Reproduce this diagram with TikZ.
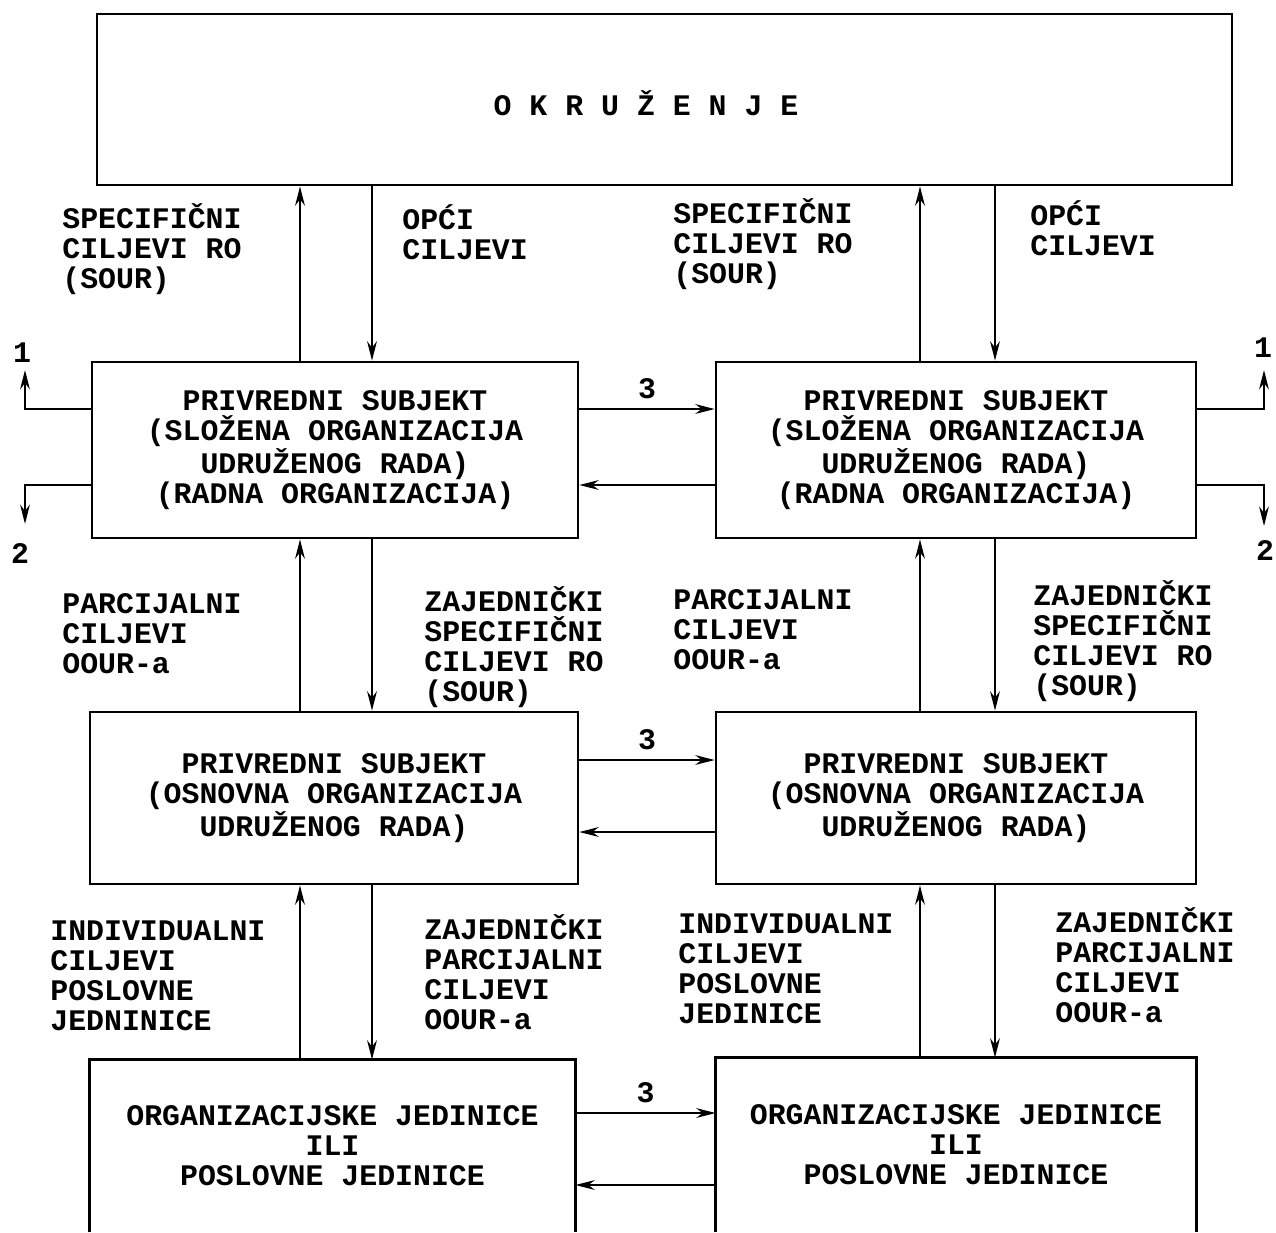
\documentclass[tikz,border=0pt]{standalone}
\usepackage{fontspec}
\setmainfont{Liberation Mono}
\usetikzlibrary{arrows.meta}
\begin{document}
\begin{tikzpicture}[x=0.02cm,y=-0.02cm,
  every node/.style={font=\fontsize{17}{17}\selectfont\bfseries, inner sep=0pt},
  box/.style={draw, line width=1.5pt, align=center},
  obox/.style={align=center},
  lbl/.style={anchor=west, align=left},
  con/.style={line width=1.4pt},
  arr/.style={con, -{Stealth[length=11pt,width=5.5pt]}}]
\useasboundingbox (0,0) rectangle (1276,1232);

% boxes
\node[box, minimum width=22.7cm, minimum height=3.42cm] (env) at (664.5,99.5) {};
\node (envt) at (646,103) {O K R U Ž E N J E};

\node[box, minimum width=9.72cm, minimum height=3.52cm] (b1) at (335,450)
  {PRIVREDNI SUBJEKT\\(SLOŽENA ORGANIZACIJA\\UDRUŽENOG RADA)\\(RADNA ORGANIZACIJA)};
\node[box, minimum width=9.6cm, minimum height=3.52cm] (b2) at (956,450)
  {PRIVREDNI SUBJEKT\\(SLOŽENA ORGANIZACIJA\\UDRUŽENOG RADA)\\(RADNA ORGANIZACIJA)};
\node[box, minimum width=9.76cm, minimum height=3.44cm] (b3) at (334,798)
  {PRIVREDNI SUBJEKT\\(OSNOVNA ORGANIZACIJA\\UDRUŽENOG RADA)};
\node[box, minimum width=9.6cm, minimum height=3.44cm] (b4) at (956,798)
  {PRIVREDNI SUBJEKT\\(OSNOVNA ORGANIZACIJA\\UDRUŽENOG RADA)};
\node[obox, minimum width=9.7cm, minimum height=3.44cm] (b5) at (332.5,1146)
  {ORGANIZACIJSKE JEDINICE\\ILI\\POSLOVNE JEDINICE};
\node[obox, minimum width=9.6cm, minimum height=3.48cm] (b6) at (956,1145)
  {ORGANIZACIJSKE JEDINICE\\ILI\\POSLOVNE JEDINICE};
\draw[con, line width=1.5pt] (b5.south west) -- (b5.north west) -- (b5.north east) -- (b5.south east);
\draw[con, line width=1.5pt] (b6.south west) -- (b6.north west) -- (b6.north east) -- (b6.south east);

% reference coordinates
\coordinate (xa) at (300,0);
\coordinate (xb) at (372,0);
\coordinate (xc) at (920,0);
\coordinate (xd) at (995,0);
\coordinate (r1a) at (0,409);
\coordinate (r1b) at (0,485);
\coordinate (r2a) at (0,760);
\coordinate (r2b) at (0,832);
\coordinate (r3a) at (0,1113);
\coordinate (r3b) at (0,1185);

% vertical connectors
\draw[arr] (b1.north -| xa) -- (env.south -| xa);
\draw[arr] (env.south -| xb) -- (b1.north -| xb);
\draw[arr] (b2.north -| xc) -- (env.south -| xc);
\draw[arr] (env.south -| xd) -- (b2.north -| xd);
\draw[arr] (b3.north -| xa) -- (b1.south -| xa);
\draw[arr] (b1.south -| xb) -- (b3.north -| xb);
\draw[arr] (b4.north -| xc) -- (b2.south -| xc);
\draw[arr] (b2.south -| xd) -- (b4.north -| xd);
\draw[arr] (b5.north -| xa) -- (b3.south -| xa);
\draw[arr] (b3.south -| xb) -- (b5.north -| xb);
\draw[arr] (b6.north -| xc) -- (b4.south -| xc);
\draw[arr] (b4.south -| xd) -- (b6.north -| xd);

% horizontal connectors
\draw[arr] (b1.east |- r1a) -- (b2.west |- r1a) node[midway, above=5pt] (t1) {3};
\draw[arr] (b2.west |- r1b) -- (b1.east |- r1b);
\draw[arr] (b3.east |- r2a) -- (b4.west |- r2a) node[midway, above=5pt] (t2) {3};
\draw[arr] (b4.west |- r2b) -- (b3.east |- r2b);
\draw[arr] (b5.east |- r3a) -- (b6.west |- r3a) node[midway, above=5pt] (t3) {3};
\draw[arr] (b6.west |- r3b) -- (b5.east |- r3b);

% side outputs
\coordinate (l1) at (25,370);
\coordinate (l2) at (25,524);
\coordinate (rr1) at (1264,370);
\coordinate (rr2) at (1264,526);
\draw[arr] (b1.west |- r1a) -| (l1);
\draw[arr] (b1.west |- r1b) -| (l2);
\draw[arr] (b2.east |- r1a) -| (rr1);
\draw[arr] (b2.east |- r1b) -| (rr2);
\node (n1l) at (22,353) {1};
\node (n2l) at (20,553) {2};
\node (n1r) at (1263,348) {1};
\node (n2r) at (1265,550) {2};

% labels
\node[lbl] (la1) at (62,249) {SPECIFIČNI\\CILJEVI RO\\(SOUR)};
\node[lbl] (la2) at (402,232) {OPĆI\\CILJEVI};
\node[lbl] (la3) at (673,244) {SPECIFIČNI\\CILJEVI RO\\(SOUR)};
\node[lbl] (la4) at (1030,228) {OPĆI\\CILJEVI};

\node[lbl] (lb1) at (62,634) {PARCIJALNI\\CILJEVI\\OOUR-a};
\node[lbl] (lb2) at (424,647) {ZAJEDNIČKI\\SPECIFIČNI\\CILJEVI RO\\(SOUR)};
\node[lbl] (lb3) at (673,630) {PARCIJALNI\\CILJEVI\\OOUR-a};
\node[lbl] (lb4) at (1033,641) {ZAJEDNIČKI\\SPECIFIČNI\\CILJEVI RO\\(SOUR)};

\node[lbl] (lc1) at (50,976) {INDIVIDUALNI\\CILJEVI\\POSLOVNE\\JEDNINICE};
\node[lbl] (lc2) at (424,972) {ZAJEDNIČKI\\PARCIJALNI\\CILJEVI\\OOUR-a};
\node[lbl] (lc3) at (678,969) {INDIVIDUALNI\\CILJEVI\\POSLOVNE\\JEDINICE};
\node[lbl] (lc4) at (1055,965) {ZAJEDNIČKI\\PARCIJALNI\\CILJEVI\\OOUR-a};
\end{tikzpicture}
\end{document}
